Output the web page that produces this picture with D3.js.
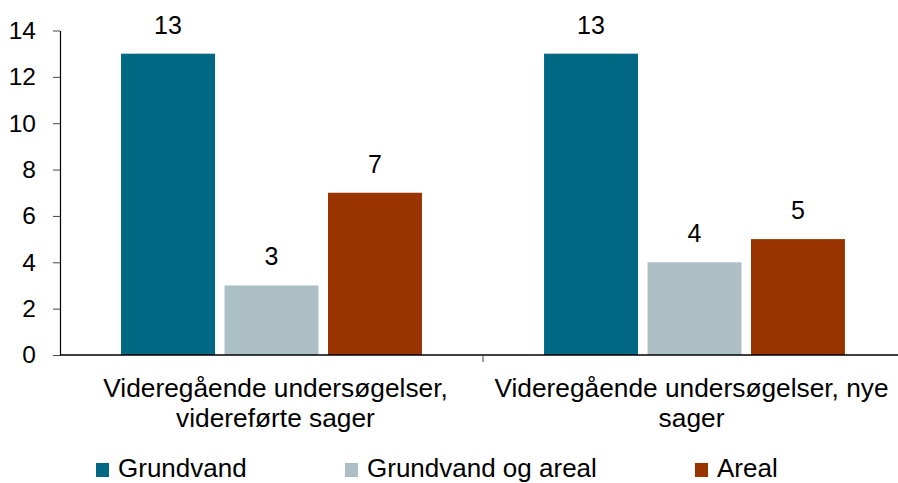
<!DOCTYPE html>
<html>
<head>
<meta charset="utf-8">
<script src="https://cdn.jsdelivr.net/npm/d3@7"></script>
<style>
  body { margin: 0; background: #fff; }
  svg { display: block; font-family: "Liberation Sans", Arial, sans-serif; }
</style>
</head>
<body>
<div id="chart"></div>
<script>
// data
var categories = [
    ["Videregående undersøgelser,", "videreførte sager"],
    ["Videregående undersøgelser, nye", "sager"]
];
var seriesNames = ["Grundvand", "Grundvand og areal", "Areal"];
var seriesColors = ["#006882", "#abbfc4", "#993300"];
var grundvand = [13, 13];
var grundvandOgAreal = [3, 4];
var areal = [7, 5];
var yTicks = [0, 2, 4, 6, 8, 10, 12, 14];

var param = {
    width: 898,
    height: 483,
    left: 60,
    right: 906,
    top: 30.5,
    bottom: 355,
    labelShift: [4, -3],
    legendX: [96, 345, 695],
    legendY: 463
};

var values = [grundvand, grundvandOgAreal, areal];
var rows = categories.map(function(c, i){
    return { key: i, lines: c, vals: seriesNames.map(function(s, j){ return { name: s, idx: j, v: values[j][i] }; }) };
});

var svg = d3.select("#chart").append("svg")
    .attr("width", param.width)
    .attr("height", param.height);

var x0 = d3.scaleBand()
    .domain(rows.map(function(r){ return r.key; }))
    .range([param.left, param.right])
    .padding(0);

var x1 = d3.scaleBand()
    .domain(d3.range(seriesNames.length))
    .range([0, x0.bandwidth()])
    .paddingInner(0.092)
    .paddingOuter(0.59);

var y = d3.scaleLinear()
    .domain([0, 14])
    .range([param.bottom, param.top]);

// bars
var groups = svg.selectAll("g.grp").data(rows).enter().append("g")
    .attr("class", "grp")
    .attr("transform", function(d){ return "translate(" + x0(d.key) + ",0)"; });

groups.selectAll("rect").data(function(d){ return d.vals; }).enter().append("rect")
    .attr("x", function(d){ return x1(d.idx); })
    .attr("y", function(d){ return y(d.v); })
    .attr("width", x1.bandwidth())
    .attr("height", function(d){ return y(0) - y(d.v); })
    .attr("fill", function(d){ return seriesColors[d.idx]; });

groups.selectAll("text.val").data(function(d){ return d.vals; }).enter().append("text")
    .attr("class", "val")
    .attr("x", function(d){ return x1(d.idx) + x1.bandwidth() / 2; })
    .attr("y", function(d){ return y(d.v) - 20; })
    .attr("text-anchor", "middle")
    .attr("font-size", "25px")
    .attr("fill", "#000")
    .text(function(d){ return d.v; });

// y axis
var yAxis = svg.append("g")
    .attr("transform", "translate(" + param.left + ",0)")
    .call(d3.axisLeft(y).tickValues(yTicks).tickSize(7).tickSizeOuter(0).tickPadding(17));
yAxis.attr("font-family", null).attr("font-size", null);
yAxis.selectAll("text").attr("font-size", "24.5px").attr("fill", "#000");
yAxis.selectAll("line").attr("stroke", "#444");
yAxis.select(".domain").attr("stroke", "#000").attr("stroke-width", 1.2);

// x axis with ticks at the band borders
var xAxis = svg.append("g").attr("transform", "translate(0," + param.bottom + ")");
xAxis.append("line")
    .attr("x1", param.left).attr("x2", param.right)
    .attr("stroke", "#000").attr("stroke-width", 1.5);
xAxis.selectAll("line.tk").data(rows.slice(1)).enter().append("line")
    .attr("class", "tk")
    .attr("x1", function(d){ return x0(d.key); })
    .attr("x2", function(d){ return x0(d.key); })
    .attr("y1", 0).attr("y2", 7)
    .attr("stroke", "#444");

// category labels
var lab = svg.selectAll("text.cat").data(rows).enter().append("text")
    .attr("class", "cat")
    .attr("text-anchor", "middle")
    .attr("font-size", "26.3px")
    .attr("fill", "#000");
lab.selectAll("tspan").data(function(d){
        var c = x0(d.key) + x0.bandwidth() / 2 + param.labelShift[d.key];
        return d.lines.map(function(l){ return { t: l, c: c }; });
    })
    .enter().append("tspan")
    .attr("x", function(d){ return d.c; })
    .attr("y", function(d, i){ return 397 + i * 30; })
    .text(function(d){ return d.t; });

// legend
var leg = svg.selectAll("g.leg").data(seriesNames).enter().append("g")
    .attr("class", "leg")
    .attr("transform", function(d, i){ return "translate(" + param.legendX[i] + "," + param.legendY + ")"; });
leg.append("rect")
    .attr("width", 13).attr("height", 14)
    .attr("fill", function(d, i){ return seriesColors[i]; });
leg.append("text")
    .attr("x", 22)
    .attr("y", 14)
    .attr("font-size", "26px")
    .attr("fill", "#000")
    .text(function(d){ return d; });
</script>
</body>
</html>
